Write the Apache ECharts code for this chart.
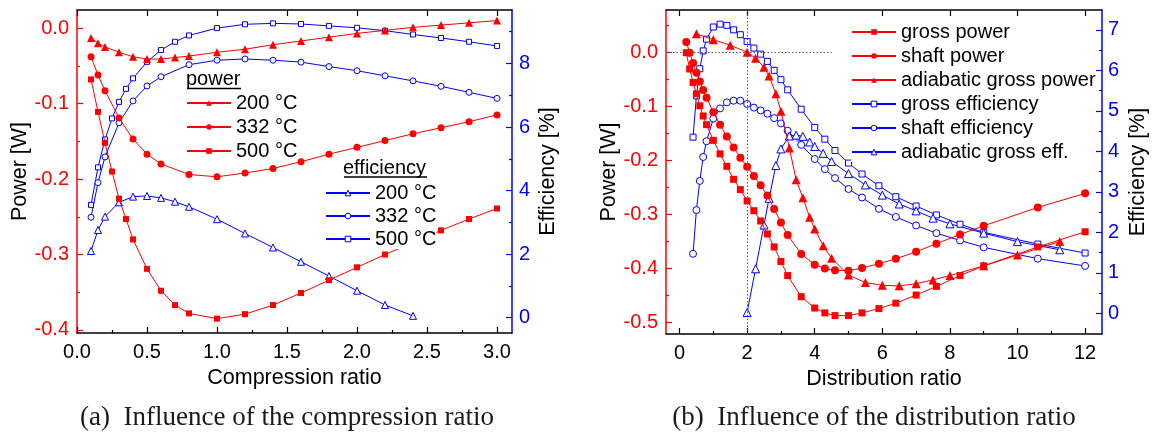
<!DOCTYPE html>
<html>
<head>
<meta charset="utf-8">
<script src="https://cdn.jsdelivr.net/npm/echarts@6/dist/echarts.min.js"></script>
<style>
  html, body { margin: 0; padding: 0; background: #fff; }
  #chart { width: 1154px; height: 437px; }
</style>
</head>
<body>
<div id="chart"></div>
<script>
// ---------- (a) influence of the compression ratio ----------
const compX200 = [0.1, 0.15, 0.2, 0.3, 0.4, 0.5, 0.6, 0.7, 0.8, 1.0, 1.2, 1.4, 1.6, 1.8, 2.0, 2.2, 2.4, 2.6, 2.8, 3.0];
const power200 = [-0.013, -0.020, -0.025, -0.032, -0.038, -0.041, -0.041, -0.039, -0.037, -0.032, -0.028, -0.022, -0.017, -0.012, -0.007, -0.003, 0.001, 0.004, 0.007, 0.010];
const effX200 = [0.1, 0.15, 0.2, 0.3, 0.4, 0.5, 0.6, 0.7, 0.8, 1.0, 1.2, 1.4, 1.6, 1.8, 2.0, 2.2, 2.4];
const eff200 = [2.10, 2.76, 3.18, 3.63, 3.81, 3.83, 3.77, 3.65, 3.49, 3.10, 2.65, 2.21, 1.76, 1.31, 0.85, 0.40, 0.06];

const compX332 = [0.1, 0.15, 0.2, 0.3, 0.4, 0.5, 0.6, 0.8, 1.0, 1.2, 1.4, 1.6, 1.8, 2.0, 2.2, 2.4, 2.6, 2.8, 3.0];
const power332 = [-0.038, -0.062, -0.083, -0.119, -0.147, -0.167, -0.180, -0.194, -0.197, -0.192, -0.186, -0.177, -0.167, -0.158, -0.149, -0.140, -0.132, -0.124, -0.115];
const eff332 = [3.16, 4.25, 5.06, 6.13, 6.82, 7.29, 7.58, 7.96, 8.10, 8.14, 8.10, 8.04, 7.90, 7.77, 7.61, 7.45, 7.28, 7.09, 6.90];

const compX500 = [0.1, 0.15, 0.2, 0.25, 0.3, 0.35, 0.4, 0.5, 0.6, 0.7, 0.8, 1.0, 1.2, 1.4, 1.6, 1.8, 2.0, 2.2, 2.4, 2.6, 2.8, 3.0];
const power500 = [-0.068, -0.111, -0.152, -0.190, -0.226, -0.253, -0.280, -0.319, -0.348, -0.367, -0.378, -0.385, -0.379, -0.367, -0.351, -0.334, -0.317, -0.300, -0.284, -0.268, -0.253, -0.239];
const eff500 = [3.55, 4.73, 5.61, 6.27, 6.79, 7.20, 7.53, 8.05, 8.42, 8.68, 8.88, 9.11, 9.23, 9.26, 9.24, 9.18, 9.12, 9.03, 8.91, 8.80, 8.68, 8.55];

// ---------- (b) influence of the distribution ratio ----------
const distX = [0.2, 0.3, 0.4, 0.5, 0.6, 0.7, 0.8, 1.0, 1.2, 1.4, 1.6, 1.8, 2.0, 2.2, 2.4, 2.6, 2.8, 3.0, 3.2, 3.6, 4.0, 4.3, 4.6, 5.0, 5.4, 5.9, 6.4, 7.0, 7.6, 8.3, 9.0, 10.6, 12.0];
const grossPower = [-0.001, -0.031, -0.056, -0.077, -0.099, -0.118, -0.134, -0.163, -0.188, -0.211, -0.235, -0.254, -0.275, -0.293, -0.312, -0.336, -0.360, -0.387, -0.413, -0.452, -0.473, -0.482, -0.487, -0.487, -0.482, -0.474, -0.464, -0.449, -0.433, -0.413, -0.395, -0.360, -0.332];
const shaftPower = [0.019, -0.001, -0.020, -0.038, -0.054, -0.070, -0.084, -0.111, -0.134, -0.156, -0.176, -0.195, -0.212, -0.229, -0.246, -0.265, -0.290, -0.315, -0.338, -0.373, -0.393, -0.400, -0.403, -0.404, -0.399, -0.391, -0.382, -0.369, -0.354, -0.337, -0.321, -0.287, -0.261];

const distEffX = [0.4, 0.5, 0.6, 0.7, 0.8, 1.0, 1.2, 1.4, 1.6, 1.8, 2.0, 2.2, 2.4, 2.6, 2.8, 3.0, 3.2, 3.6, 4.0, 4.3, 4.6, 5.0, 5.4, 5.9, 6.4, 7.0, 7.6, 8.3, 9.0, 10.6, 12.0];
const grossEff = [4.35, 5.37, 6.04, 6.48, 6.77, 7.07, 7.14, 7.11, 7.00, 6.88, 6.71, 6.55, 6.40, 6.22, 6.00, 5.77, 5.52, 5.04, 4.59, 4.30, 4.02, 3.71, 3.44, 3.15, 2.88, 2.65, 2.43, 2.20, 2.00, 1.71, 1.49];
const shaftEff = [1.47, 2.55, 3.27, 3.86, 4.25, 4.81, 5.06, 5.21, 5.25, 5.25, 5.17, 5.08, 5.01, 4.93, 4.82, 4.69, 4.51, 4.16, 3.81, 3.56, 3.34, 3.07, 2.86, 2.58, 2.38, 2.17, 1.98, 1.80, 1.63, 1.35, 1.17];

const adiabX = [0.5, 1.0, 1.5, 2.0, 2.25, 2.5, 2.65, 2.85, 3.0, 3.25, 3.45, 3.65, 3.85, 4.0, 4.25, 4.5, 5.0, 5.5, 6.0, 6.5, 7.0, 7.5, 8.0, 9.0, 10.0, 11.25];
const adiabPower = [0.034, 0.023, 0.013, 0.000, -0.011, -0.028, -0.044, -0.077, -0.109, -0.177, -0.236, -0.269, -0.305, -0.327, -0.358, -0.381, -0.412, -0.426, -0.431, -0.432, -0.428, -0.421, -0.413, -0.395, -0.375, -0.350];
const adiabEffX = [2.0, 2.25, 2.5, 2.65, 2.85, 3.0, 3.25, 3.45, 3.65, 3.85, 4.0, 4.25, 4.5, 5.0, 5.5, 6.0, 6.5, 7.0, 7.5, 8.0, 9.0, 10.0, 11.25];
const adiabEff = [0.02, 1.10, 2.18, 2.84, 3.65, 4.06, 4.38, 4.40, 4.37, 4.23, 4.12, 3.95, 3.75, 3.45, 3.17, 2.92, 2.70, 2.53, 2.35, 2.21, 1.98, 1.77, 1.57];

// reference lines in (b): design distribution ratio and zero power
const refRatio = 2;
const zeroLineEnd = 4.5;

// ---------- axis ranges and ticks ----------
const aXRange = [0, 3.107], aPowerRange = [-0.404, 0.024], aEffRange = [-0.48, 9.68];
const bXRange = [-0.4, 12.5], bPowerRange = [-0.521, 0.078], bEffRange = [-0.51, 7.49];

const aXTicks = [0, 0.5, 1.0, 1.5, 2.0, 2.5, 3.0];
const aXMinor = [0.25, 0.75, 1.25, 1.75, 2.25, 2.75];
const aPowerTicks = [0, -0.1, -0.2, -0.3, -0.4];
const aPowerMinor = [-0.05, -0.15, -0.25, -0.35];
const aEffTicks = [0, 2, 4, 6, 8];
const aEffMinor = [1, 3, 5, 7, 9];

const bXTicks = [0, 2, 4, 6, 8, 10, 12];
const bXMinor = [1, 3, 5, 7, 9, 11];
const bPowerTicks = [0, -0.1, -0.2, -0.3, -0.4, -0.5];
const bPowerMinor = [0.05, -0.05, -0.15, -0.25, -0.35, -0.45];
const bEffTicks = [0, 1, 2, 3, 4, 5, 6, 7];
const bEffMinor = [0.5, 1.5, 2.5, 3.5, 4.5, 5.5, 6.5];

const legendText = {
  p200: '200 °C', p332: '332 °C', p500: '500 °C',
  e200: '200 °C', e332: '332 °C', e500: '500 °C',
  gp: 'gross power', sp: 'shaft power', ap: 'adiabatic gross power',
  ge: 'gross efficiency', se: 'shaft efficiency', ae: 'adiabatic gross eff.'
};

const RED = '#ff0000', BLUE = '#0000ff', BLACK = '#000000';
const FONT = "'Liberation Sans', Arial, sans-serif";

const pairs = (xs, ys) => xs.map((x, i) => [x, ys[i]]);
const fmt1 = v => v.toFixed(1);
const fmt0 = v => String(Math.round(v));

function axis(gridIndex, position, range, color, showLine) {
  return {
    type: 'value', gridIndex, position, min: range[0], max: range[1],
    splitLine: { show: false },
    axisLine: { show: showLine, onZero: false, lineStyle: { color, width: 1.5 } },
    axisTick: { show: false },
    axisLabel: { show: false }
  };
}
function ticks(ax, values, len, color) {
  ax.axisTick = { show: true, inside: true, length: len, customValues: values, lineStyle: { color, width: 1.2 } };
  return ax;
}
function labels(ax, values, formatter, color, margin) {
  ax.axisLabel = { show: true, customValues: values, formatter, color, fontFamily: FONT, fontSize: 20, margin };
  return ax;
}
function named(ax, name, gap) {
  ax.name = name;
  ax.nameLocation = 'middle';
  ax.nameGap = gap;
  ax.nameTextStyle = { color: BLACK, fontFamily: FONT, fontSize: 21.5 };
  return ax;
}

const xAxes = [
  // (a)
  named(labels(ticks(axis(0, 'bottom', aXRange, BLACK, true), aXTicks, 6, BLACK), aXTicks, fmt1, BLACK, 9), 'Compression ratio', 32),
  ticks(axis(0, 'bottom', aXRange, BLACK, false), aXMinor, 3, BLACK),
  ticks(axis(0, 'top', aXRange, BLACK, true), aXTicks, 6, BLACK),
  // (b)
  named(labels(ticks(axis(1, 'bottom', bXRange, BLACK, true), bXTicks, 6, BLACK), bXTicks, fmt0, BLACK, 9), 'Distribution ratio', 32),
  ticks(axis(1, 'bottom', bXRange, BLACK, false), bXMinor, 3, BLACK),
  ticks(axis(1, 'top', bXRange, BLACK, true), bXTicks, 6, BLACK)
];

const yAxes = [
  // (a) 0..3
  named(labels(ticks(axis(0, 'left', aPowerRange, RED, true), aPowerTicks, 6, RED), aPowerTicks, fmt1, RED, 8), 'Power [W]', 43),
  ticks(axis(0, 'left', aPowerRange, RED, false), aPowerMinor, 3, RED),
  named(labels(ticks(axis(0, 'right', aEffRange, BLUE, true), aEffTicks, 6, BLUE), aEffTicks, fmt0, BLUE, 7), 'Efficiency [%]', 25),
  ticks(axis(0, 'right', aEffRange, BLUE, false), aEffMinor, 3, BLUE),
  // (b) 4..7
  named(labels(ticks(axis(1, 'left', bPowerRange, RED, true), bPowerTicks, 6, RED), bPowerTicks, fmt1, RED, 8), 'Power [W]', 43),
  ticks(axis(1, 'left', bPowerRange, RED, false), bPowerMinor, 3, RED),
  named(labels(ticks(axis(1, 'right', bEffRange, BLUE, true), bEffTicks, 6, BLUE), bEffTicks, fmt0, BLUE, 6), 'Efficiency [%]', 25),
  ticks(axis(1, 'right', bEffRange, BLUE, false), bEffMinor, 3, BLUE)
];

// power: solid red markers
function powerSeries(name, xi, yi, xs, ys, symbol, size) {
  return {
    name, type: 'line', xAxisIndex: xi, yAxisIndex: yi, data: pairs(xs, ys),
    symbol, symbolSize: size, showAllSymbol: true,
    lineStyle: { color: RED, width: 1 },
    itemStyle: { color: RED },
    z: 3, silent: true
  };
}
// efficiency: open blue markers (white fill, thin blue outline)
const openStyle = { color: '#ffffff', borderColor: BLUE, borderWidth: 1 };
function effSeries(name, xi, yi, xs, ys, symbol, size) {
  return {
    name, type: 'line', xAxisIndex: xi, yAxisIndex: yi, data: pairs(xs, ys),
    symbol, symbolSize: size, showAllSymbol: true,
    lineStyle: { color: BLUE, width: 1 },
    itemStyle: openStyle,
    z: 2, silent: true
  };
}

const dotted = { color: '#555', width: 1, type: [1.5, 2] };

const series = [
  powerSeries('p200', 0, 0, compX200, power200, 'triangle', 8),
  powerSeries('p332', 0, 0, compX332, power332, 'circle', 7),
  powerSeries('p500', 0, 0, compX500, power500, 'rect', 6),
  effSeries('e200', 0, 2, effX200, eff200, 'triangle', 7),
  effSeries('e332', 0, 2, compX332, eff332, 'circle', 6),
  effSeries('e500', 0, 2, compX500, eff500, 'rect', 5),

  Object.assign(powerSeries('gp', 3, 4, distX, grossPower, 'rect', 7), {
    markLine: {
      silent: true, symbol: 'none', label: { show: false }, lineStyle: dotted,
      data: [
        { xAxis: refRatio },
        [{ coord: [bXRange[0], 0] }, { coord: [zeroLineEnd, 0] }]
      ]
    }
  }),
  powerSeries('sp', 3, 4, distX, shaftPower, 'circle', 8),
  powerSeries('ap', 3, 4, adiabX, adiabPower, 'triangle', 9),
  effSeries('ge', 3, 6, distEffX, grossEff, 'rect', 6),
  effSeries('se', 3, 6, distEffX, shaftEff, 'circle', 7),
  effSeries('ae', 3, 6, adiabEffX, adiabEff, 'triangle', 8)
];

const openNames = ['e200', 'e332', 'e500', 'ge', 'se', 'ae'];
function legend(names, left, top, gap) {
  return {
    data: names.map(n => openNames.includes(n)
      ? { name: n, itemStyle: openStyle }
      : { name: n, itemStyle: { color: RED } }),
    orient: 'vertical', left, top, itemWidth: 44, itemHeight: 7, itemGap: gap,
    padding: 0, backgroundColor: '#ffffff', selectedMode: false,
    formatter: n => legendText[n],
    textStyle: { color: BLACK, fontFamily: FONT, fontSize: 20, lineHeight: 20 }
  };
}

const chart = echarts.init(document.getElementById('chart'), null, { renderer: 'canvas' });
chart.setOption({
  animation: false,
  backgroundColor: '#ffffff',
  grid: [
    { left: 77, top: 10, width: 435, height: 323 },
    { left: 666, top: 10, width: 436, height: 324 }
  ],
  xAxis: xAxes,
  yAxis: yAxes,
  legend: [
    legend(['p200', 'p332', 'p500'], 186, 93, 4),
    legend(['e200', 'e332', 'e500'], 325, 183, 3),
    legend(['gp', 'sp', 'ap', 'ge', 'se', 'ae'], 851, 22, 4)
  ],
  graphic: [
    { type: 'text', z: 100, x: 186, y: 79.5, style: { text: 'power', fill: BLACK, fontFamily: FONT, fontSize: 20, verticalAlign: 'middle' } },
    { type: 'line', z: 100, shape: { x1: 187, y1: 88.5, x2: 241, y2: 88.5 }, style: { stroke: BLACK, lineWidth: 1.3 } },
    { type: 'text', z: 100, x: 343, y: 168.5, style: { text: 'efficiency', fill: BLACK, fontFamily: FONT, fontSize: 20, verticalAlign: 'middle' } },
    { type: 'line', z: 100, shape: { x1: 344, y1: 177, x2: 427, y2: 177 }, style: { stroke: BLACK, lineWidth: 1.3 } },
    { type: 'text', z: 100, x: 287, y: 418, style: { text: '(a)  Influence of the compression ratio', fill: '#1a1a1a', fontFamily: "'Liberation Serif', 'Times New Roman', serif", fontSize: 27, align: 'center', verticalAlign: 'middle' } },
    { type: 'text', z: 100, x: 874, y: 418, style: { text: '(b)  Influence of the distribution ratio', fill: '#1a1a1a', fontFamily: "'Liberation Serif', 'Times New Roman', serif", fontSize: 27, align: 'center', verticalAlign: 'middle' } }
  ],
  series
});
</script>
</body>
</html>
